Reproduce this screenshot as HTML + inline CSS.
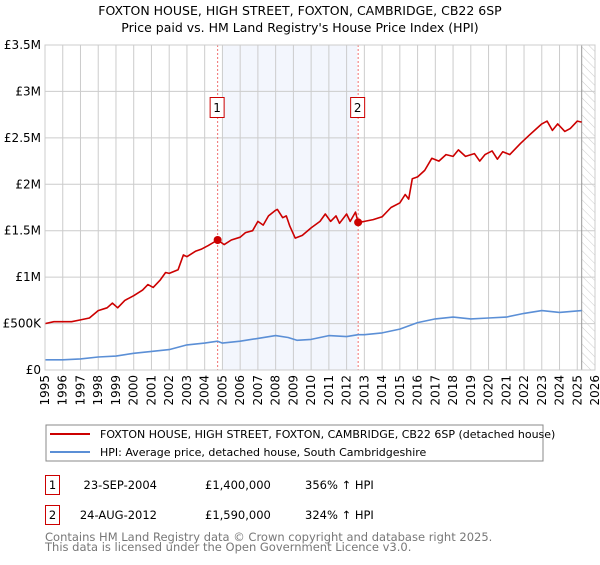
<!DOCTYPE html>
<html><head><meta charset="utf-8"><style>
body{margin:0;background:#fff;font-family:"Liberation Sans","DejaVu Sans",sans-serif;}
svg text{font-family:"DejaVu Sans","Liberation Sans",sans-serif;}
</style></head><body>
<svg id="c" width="600" height="560" xmlns="http://www.w3.org/2000/svg">
<defs><pattern id="hatch" width="6" height="6" patternUnits="userSpaceOnUse" patternTransform="rotate(-45)"><line x1="0" y1="0" x2="0" y2="6" stroke="#ccc" stroke-width="1"/></pattern></defs>
<text x="300" y="15" text-anchor="middle" font-size="12.5">FOXTON HOUSE, HIGH STREET, FOXTON, CAMBRIDGE, CB22 6SP</text>
<text x="300" y="32" text-anchor="middle" font-size="12.5">Price paid vs. HM Land Registry's House Price Index (HPI)</text>
<g id="plot"></g>
<g>
<rect x="46" y="425" width="497" height="36" fill="#fff" stroke="#888"/>
<line x1="50" y1="434" x2="90" y2="434" stroke="#cc0000" stroke-width="2"/>
<text x="100" y="438" font-size="11">FOXTON HOUSE, HIGH STREET, FOXTON, CAMBRIDGE, CB22 6SP (detached house)</text>
<line x1="50" y1="452" x2="90" y2="452" stroke="#5b8fd6" stroke-width="2"/>
<text x="100" y="456" font-size="11">HPI: Average price, detached house, South Cambridgeshire</text>
</g>
<g font-size="11.5">
<rect x="45.5" y="475.5" width="14" height="19" fill="#fff" stroke="#cc0000"/>
<text x="52.5" y="489" text-anchor="middle">1</text>
<text x="157" y="489" text-anchor="end">23-SEP-2004</text>
<text x="205" y="489">£1,400,000</text>
<text x="305" y="489">356% ↑ HPI</text>
<rect x="45.5" y="505.5" width="14" height="19" fill="#fff" stroke="#cc0000"/>
<text x="52.5" y="519" text-anchor="middle">2</text>
<text x="157" y="519" text-anchor="end">24-AUG-2012</text>
<text x="205" y="519">£1,590,000</text>
<text x="305" y="519">324% ↑ HPI</text>
</g>
<text x="45" y="541" font-size="11.5" fill="#777">Contains HM Land Registry data © Crown copyright and database right 2025.</text>
<text x="45" y="551" font-size="11.5" fill="#777">This data is licensed under the Open Government Licence v3.0.</text>
</svg>
<script>
const yTicks=[0,500000,1000000,1500000,2000000,2500000,3000000,3500000];
const yTickLabels=["£0","£500K","£1M","£1.5M","£2M","£2.5M","£3M","£3.5M"];
const xYears=[1995,1996,1997,1998,1999,2000,2001,2002,2003,2004,2005,2006,2007,2008,2009,2010,2011,2012,2013,2014,2015,2016,2017,2018,2019,2020,2021,2022,2023,2024,2025,2026];
const propT=[1995,1995.5,1996,1996.5,1997,1997.5,1998,1998.5,1998.8,1999.1,1999.5,2000,2000.5,2000.8,2001.1,2001.5,2001.8,2002,2002.5,2002.8,2003,2003.5,2003.8,2004.2,2004.73,2005.1,2005.5,2006,2006.3,2006.7,2007,2007.3,2007.6,2008,2008.1,2008.4,2008.6,2008.8,2009.1,2009.5,2010,2010.5,2010.8,2011.1,2011.4,2011.6,2012,2012.2,2012.5,2012.65,2013,2013.5,2014,2014.5,2015,2015.3,2015.5,2015.7,2016,2016.4,2016.8,2017.2,2017.6,2018,2018.3,2018.7,2019.2,2019.5,2019.8,2020.2,2020.5,2020.8,2021.2,2021.8,2022.3,2022.7,2023,2023.3,2023.6,2023.9,2024.3,2024.6,2025,2025.25];
const propV=[0.50,0.52,0.52,0.52,0.54,0.56,0.64,0.67,0.72,0.67,0.75,0.80,0.86,0.92,0.89,0.97,1.05,1.04,1.08,1.24,1.22,1.28,1.30,1.34,1.40,1.35,1.40,1.43,1.48,1.50,1.60,1.56,1.66,1.72,1.73,1.64,1.66,1.55,1.42,1.45,1.53,1.60,1.68,1.60,1.66,1.58,1.68,1.60,1.70,1.59,1.60,1.62,1.65,1.75,1.80,1.89,1.84,2.06,2.08,2.15,2.28,2.25,2.32,2.30,2.37,2.30,2.33,2.25,2.32,2.36,2.27,2.35,2.32,2.44,2.53,2.60,2.65,2.68,2.58,2.65,2.57,2.60,2.68,2.67];
const hpiT=[1995,1996,1997,1998,1999,2000,2001,2002,2003,2004,2004.73,2005,2006,2007,2008,2008.7,2009.2,2010,2011,2012,2012.65,2013,2014,2015,2016,2017,2018,2019,2020,2021,2022,2023,2024,2025.25];
const hpiV=[0.11,0.11,0.12,0.14,0.15,0.18,0.20,0.22,0.27,0.29,0.31,0.29,0.31,0.34,0.37,0.35,0.32,0.33,0.37,0.36,0.38,0.38,0.40,0.44,0.51,0.55,0.57,0.55,0.56,0.57,0.61,0.64,0.62,0.64];
const saleT=[2004.73,2012.65];
const saleV=[1.40,1.59];
const saleLabels=["1","2"];
const NS="http://www.w3.org/2000/svg";
const X0=45,X1=595,Y0=370,Y1=45;
function xs(t){return X0+(t-1995)/(2026-1995)*(X1-X0);}
function ys(v){return Y0-v/3500000*(Y0-Y1);}
const g=document.getElementById('plot');
function mk(tag,at,parent){const e=document.createElementNS(NS,tag);for(const k in at)e.setAttribute(k,at[k]);(parent||g).appendChild(e);return e;}
let e;
e=mk('rect',{x:xs(2005.0),y:Y1,width:xs(2012.6)-xs(2005.0),height:Y0-Y1,fill:'#eef2fc',opacity:0.7});


e=mk('rect',{x:xs(2025.25),y:Y1,width:X1-xs(2025.25),height:Y0-Y1,fill:'url(#hatch)'});


yTicks.forEach((v,i)=>{
 e=mk('line',{x1:X0,x2:X1,y1:ys(v),y2:ys(v),stroke:'#ccc'});
 
 
 e=mk('text',{x:X0-4,y:ys(v)+4,'text-anchor':'end','font-size':'12'});
 e.textContent=yTickLabels[i];
 
 
});
xYears.forEach(yr=>{
 e=mk('line',{x1:xs(yr),x2:xs(yr),y1:Y1,y2:Y0,stroke:'#ccc'});
 
 
 e=mk('text',{x:0,y:0,'text-anchor':'end','font-size':'12',transform:`translate(${xs(yr)+4},375) rotate(-90)`});
 e.textContent=yr;
 
 
});
e=mk('line',{x1:xs(2025.25),x2:xs(2025.25),y1:Y1,y2:Y0,stroke:'#999'});


saleT.forEach((t,i)=>{
 e=mk('line',{x1:xs(t),x2:xs(t),y1:Y1,y2:Y0,stroke:'#f07070','stroke-dasharray':'2,2'});
 
 
});
function path(T,V,col,name){
 let d=T.map((t,i)=>(i?'L':'M')+xs(t).toFixed(1)+','+ys(V[i]*1e6).toFixed(1)).join('');
 const p=mk('path',{d:d,fill:'none',stroke:col,'stroke-width':1.6,'stroke-linejoin':'round'});
 
 
}
path(hpiT,hpiV,'#5b8fd6','hpi-line');
path(propT,propV,'#cc0000','property-price-line');
saleT.forEach((t,i)=>{
 e=mk('circle',{cx:xs(t),cy:ys(saleV[i]*1e6),r:4,fill:'#cc0000'});
 
 
 const gx=xs(t)-7;
 e=mk('rect',{x:gx-0.5,y:97.5,width:14,height:20,fill:'#fff',stroke:'#cc0000'});
 
 
 e=mk('text',{x:gx+6.5,y:112,'text-anchor':'middle','font-size':'12'});
 e.textContent=saleLabels[i];
 
 
});
e=mk('rect',{x:X0,y:Y1,width:X1-X0,height:Y0-Y1,fill:'none',stroke:'#ccc'});


</script>
</body></html>
